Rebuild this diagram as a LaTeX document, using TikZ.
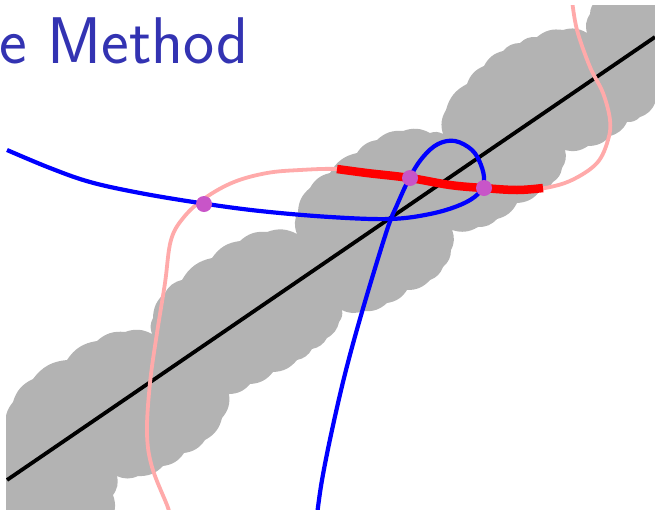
\documentclass[tikz,border=0pt]{standalone}
\usepackage{tikz}
\definecolor{titleblue}{rgb}{0.2,0.2,0.7}
\definecolor{tubegray}{RGB}{179,179,179}
\definecolor{curvepink}{RGB}{255,170,170}
\definecolor{dotviolet}{RGB}{200,85,200}
\begin{document}
\begin{tikzpicture}[x=1pt,y=-1pt,
  tube/.style={fill=tubegray, every to/.style={bend left=24}},
  axisline/.style={draw=black, line width=3.8pt},
  pinkcurve/.style={draw=curvepink, line width=3.8pt},
  bluecurve/.style={draw=blue, line width=4.2pt},
  redcurve/.style={draw=red, line width=8.5pt},
  hitdot/.style={circle, fill=dotviolet, minimum size=16pt, inner sep=0pt}]
\useasboundingbox (0,0) rectangle (655,509);
\node[anchor=base west, text=titleblue, font=\fontsize{66}{70}\selectfont\sffamily, inner sep=0pt] (title) at (-1,63) {e Method};
\begin{scope}
\clip (6,5) rectangle (660,515);
% gray tube
\path[tube] (0,520) -- (6,428)
  to (13,402) to (33,379) to (67,360) to (97,341) to (125,332) to (152,334)
  to (153,318) to (165,293) to (182,280) to (212,258) to (240,241) to (267,232) to (297,234)
  to (298,212) to (310,188) to (330,173) to (357,153) to (377,140) to (403,131) to (430,133) to (443,134)
  to (446,110) to (467,84) to (484,66) to (503,51) to (520,43) to (537,37) to (563,30) to (587,33)
  to (590,14) to (597,0) -- (660,0) -- (660,103) -- (655,103)
  to (640,117) to (627,122) to (610,136) to (588,146) to (565,150)
  to (562,168) to (553,182) to (540,191) to (517,203) to (497,219) to (478,227) to (452,230)
  to (451,250) to (443,267) to (430,280) to (407,290) to (387,303) to (363,311) to (342,310)
  to (339,322) to (327,338) to (312,349) to (297,360) to (273,372) to (250,384) to (229,394)
  to (222,418) to (205,440) to (184,453) to (163,466) to (138,476) to (117,476)
  to (113,495) to (111,520) -- cycle;
% straight line
\coordinate (lineA) at (7,480);
\coordinate (lineB) at (655,37);
\draw[axisline] (lineA) -- (lineB);
% pink curve
\draw[pinkcurve] plot[smooth, tension=0.6] coordinates {
  (572,0) (577,30) (590,67) (603,93) (610,120) (608,140) (597,163) (572,180)
  (545,188) (517,190) (483,188) (450,185) (410,178) (367,173) (337,169)
  (300,170) (267,173) (234,182) (205,198) (184,217) (171,240) (165,283)
  (157,333) (150,383) (147,433) (152,467) (167,505) (169,512)};
% blue curve
\draw[bluecurve] plot[smooth, tension=0.6] coordinates {
  (7,150) (50,168) (90,182) (140,193) (200,203) (260,211) (330,217) (390,219)
  (430,214) (460,205) (478,194) (484,181) (481,165) (472,150) (455,141)
  (438,144) (423,157) (410,177) (397,205) (387,230) (364,305) (346,370)
  (332,430) (322,480) (317,515)};
% red segment
\draw[redcurve] plot[smooth, tension=0.6] coordinates {
  (337,169) (367,173) (410,178) (450,185) (483,188) (517,190) (543,188)};
\end{scope}
\node[hitdot] (d1) at (204,204) {};
\node[hitdot] (d2) at (410,178) {};
\node[hitdot] (d3) at (484,188) {};
\end{tikzpicture}
\end{document}
